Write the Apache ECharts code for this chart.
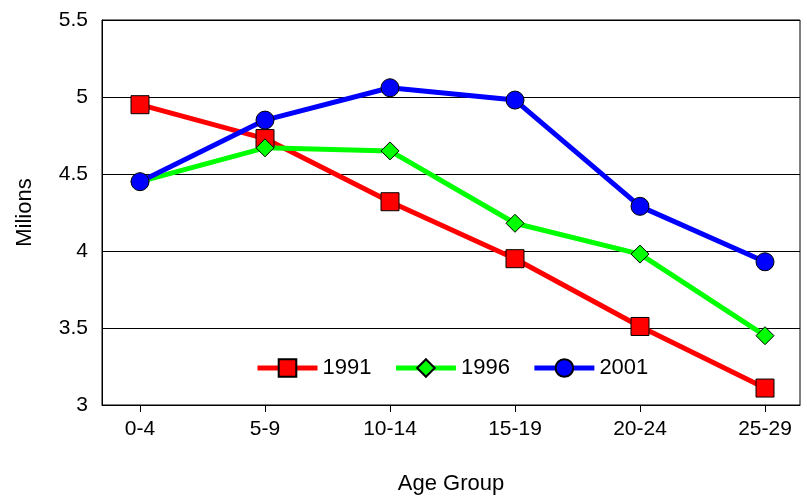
<!DOCTYPE html>
<html>
<head>
<meta charset="UTF-8">
<script src="https://cdn.jsdelivr.net/npm/echarts@6/dist/echarts.min.js"></script>
<style>*{margin:0;padding:0}#main{width:807px;height:501px}</style>
</head>
<body>
<div id="main"></div>
<script>
var categories = ['0-4', '5-9', '10-14', '15-19', '20-24', '25-29'];
var y1991 = [4.95, 4.73, 4.32, 3.95, 3.51, 3.11];
var y1996 = [4.45, 4.67, 4.65, 4.18, 3.98, 3.45];
var y2001 = [4.45, 4.85, 5.06, 4.98, 4.29, 3.93];

function pts(arr) { return arr.map(function (v, i) { return [i, v]; }); }
var font = 'Liberation Sans';
var chart = echarts.init(document.getElementById('main'));
chart.setOption({
  animation: false,
  textStyle: { fontFamily: font },
  grid: { left: 102, right: 7, top: 20, bottom: 96, show: true, borderColor: '#000', borderWidth: 1 },
  legend: {
    top: 352, left: 250, itemWidth: 60, itemHeight: 22, itemGap: 22,
    textStyle: { fontSize: 22, color: '#000', fontFamily: font },
    lineStyle: { width: 5 },
    data: ['1991', '1996', '2001']
  },
  xAxis: {
    type: 'value', min: -0.304, max: 5.28,
    name: 'Age Group', nameLocation: 'middle', nameGap: 68,
    nameTextStyle: { fontSize: 22, color: '#000' },
    axisLine: { onZero: false, lineStyle: { color: '#000' } },
    splitLine: { show: false },
    axisTick: { customValues: [0, 1, 2, 3, 4, 5], length: 7, lineStyle: { color: '#000' } },
    axisLabel: {
      customValues: [0, 1, 2, 3, 4, 5], fontSize: 21, color: '#000', margin: 14,
      formatter: function (v) { return categories[Math.round(v)]; }
    }
  },
  yAxis: {
    type: 'value', min: 3, max: 5.5, interval: 0.5,
    name: 'Milions', nameLocation: 'middle', nameGap: 66,
    nameTextStyle: { fontSize: 22, color: '#000' },
    axisLine: { show: true, onZero: false, lineStyle: { color: '#000' } },
    axisTick: { show: true, inside: true, length: 6, lineStyle: { color: '#000' } },
    axisLabel: { fontSize: 21, color: '#000', margin: 14 },
    splitLine: { lineStyle: { color: '#000', width: 1 } }
  },
  series: [
    { name: '1991', type: 'line', data: pts(y1991), symbol: 'rect', symbolSize: 18,
      lineStyle: { color: '#ff0000', width: 5 }, itemStyle: { color: '#ff0000', borderColor: '#000', borderWidth: 1 } },
    { name: '1996', type: 'line', data: pts(y1996), symbol: 'diamond', symbolSize: 18,
      lineStyle: { color: '#00ff00', width: 5 }, itemStyle: { color: '#00ff00', borderColor: '#000', borderWidth: 1 } },
    { name: '2001', type: 'line', data: pts(y2001), symbol: 'circle', symbolSize: 18,
      lineStyle: { color: '#0000ff', width: 5 }, itemStyle: { color: '#0000ff', borderColor: '#000', borderWidth: 1 } }
  ]
});
</script>
</body>
</html>
